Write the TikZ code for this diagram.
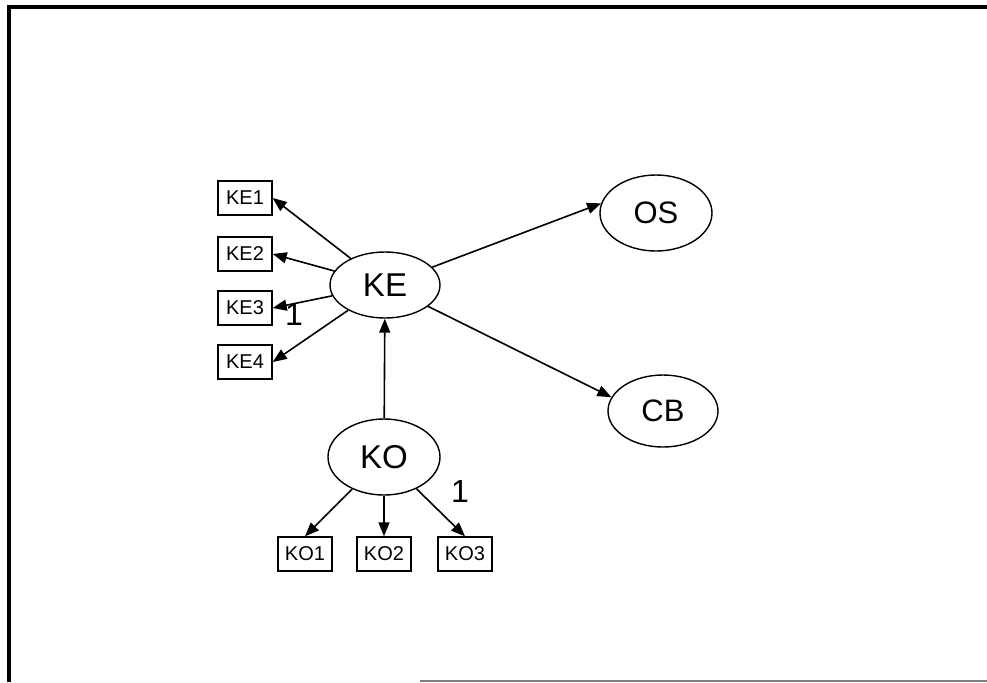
\documentclass[tikz,border=0pt]{standalone}
\usepackage{fontspec}
\setmainfont{Liberation Sans}
\usetikzlibrary{arrows.meta, shapes.geometric}

\begin{document}
\begin{tikzpicture}[x=0.5pt, y=-0.5pt,
    latent/.style={ellipse, draw, line width=0.7pt, inner sep=0pt,
      minimum width=55pt, minimum height=33pt, font=\fontsize{15.5}{15.5}\selectfont},
    item/.style={rectangle, draw, line width=0.7pt, inner sep=0pt,
      minimum width=27pt, minimum height=17pt, font=\fontsize{10}{10}\selectfont},
    link/.style={line width=0.8pt, -{Triangle[length=7pt, width=5.5pt]}},
    one/.style={font=\fontsize{16}{16}\selectfont}]
    \useasboundingbox (0,0) rectangle (987,682);

    % --- 1. 外框 ---
    \draw[line width=2pt] (8.5,682) -- (8.5,7) -- (987,7);
    \draw[gray, line width=0.6pt] (420,681) -- (987,681);

    % --- 2. 潛在變數 (橢圓) ---
    \node[latent, font=\fontsize{16.5}{16.5}\selectfont] (KE) at (385,285) {KE};
    \node[latent, minimum width=56pt, minimum height=38pt] (OS) at (656,213) {OS};
    \node[latent, minimum height=36pt] (CB) at (663,411) {CB};
    \node[latent, minimum width=56pt, minimum height=38pt, font=\fontsize{16.5}{16.5}\selectfont] (KO) at (384,457) {KO};

    % --- 3. 觀察變數 (方框) ---
    \node[item] (KE1) at (245,198) {KE1};
    \node[item] (KE2) at (245,254) {KE2};
    \node[item] (KE3) at (245,308) {KE3};
    \node[item] (KE4) at (245,362) {KE4};
    \node[item] (KO1) at (305,554) {KO1};
    \node[item] (KO2) at (384,554) {KO2};
    \node[item] (KO3) at (465,554) {KO3};

    % --- 4. 路徑 ---
    \draw[link] (KE) -- (KE1.east);
    \draw[link] (KE) -- (KE2.east);
    \draw[link] (KE) -- (KE3.east);
    \draw[link] (KE) -- (KE4.east);
    \draw[link] (KE) -- (OS.170);
    \draw[link] (KE) -- (CB.165);
    \draw[link] (KO) -- (KE);
    \draw[link] (KO) -- (KO1.north);
    \draw[link] (KO) -- (KO2.north);
    \draw[link] (KO) -- (KO3.north);

    % --- 5. 固定參數 ---
    \node[one] (fixKE) at (294,314) {1};
    \node[one] (fixKO) at (460,491) {1};
\end{tikzpicture}
\end{document}
